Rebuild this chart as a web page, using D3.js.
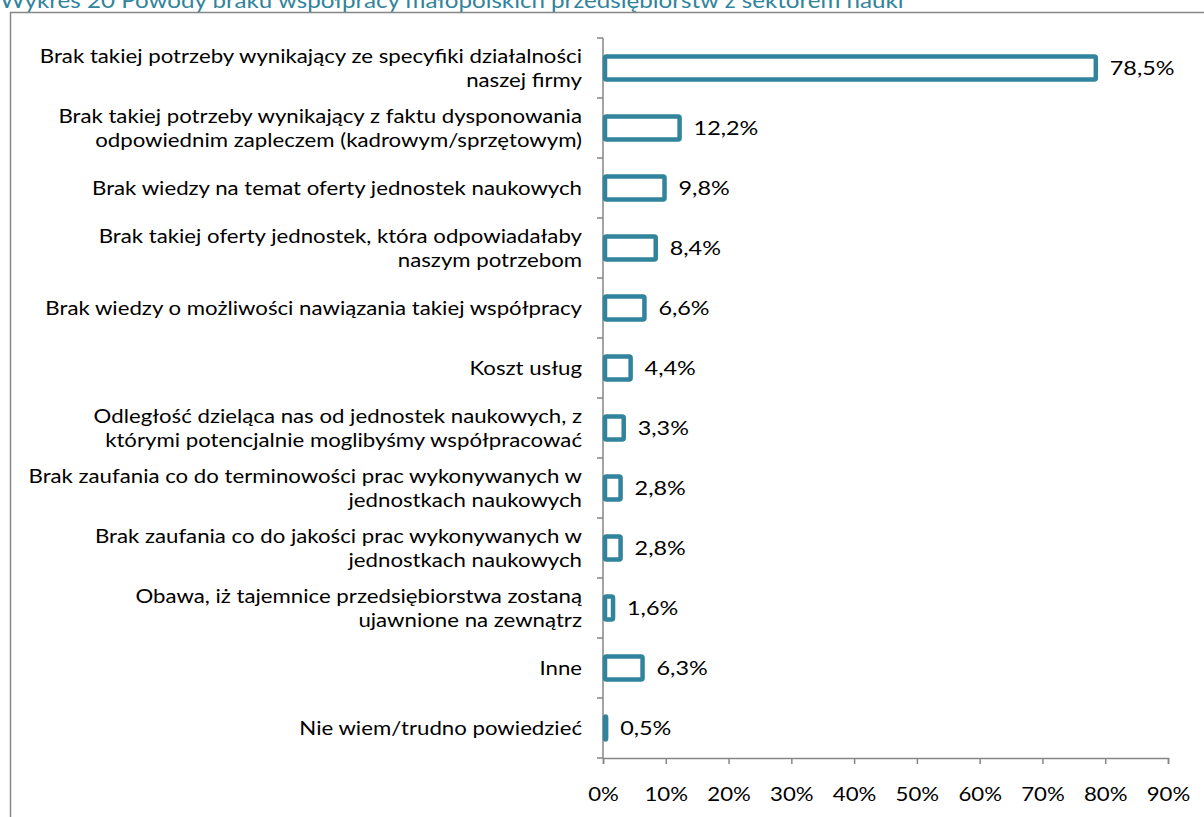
<!DOCTYPE html>
<html>
<head>
<meta charset="utf-8">
<script src="https://cdn.jsdelivr.net/npm/d3@7"></script>
<style>
  html, body { margin: 0; padding: 0; background: #fff; }
  svg { display: block; }
</style>
</head>
<body>
<svg id="chart" width="1204" height="817"></svg>
<script>
const title = "Wykres 20 Powody braku współpracy małopolskich przedsiębiorstw z sektorem nauki";
const categories = [
  ["Brak takiej potrzeby wynikający ze specyfiki działalności", "naszej firmy"],
  ["Brak takiej potrzeby wynikający z faktu dysponowania", "odpowiednim zapleczem (kadrowym/sprzętowym)"],
  ["Brak wiedzy na temat oferty jednostek naukowych"],
  ["Brak takiej oferty jednostek, która odpowiadałaby", "naszym potrzebom"],
  ["Brak wiedzy o możliwości nawiązania takiej współpracy"],
  ["Koszt usług"],
  ["Odległość dzieląca nas od jednostek naukowych, z", "którymi potencjalnie moglibyśmy współpracować"],
  ["Brak zaufania co do terminowości prac wykonywanych w", "jednostkach naukowych"],
  ["Brak zaufania co do jakości prac wykonywanych w", "jednostkach naukowych"],
  ["Obawa, iż tajemnice przedsiębiorstwa zostaną", "ujawnione na zewnątrz"],
  ["Inne"],
  ["Nie wiem/trudno powiedzieć"]
];
const values = [78.5, 12.2, 9.8, 8.4, 6.6, 4.4, 3.3, 2.8, 2.8, 1.6, 6.3, 0.5];
const xTicks = [0, 10, 20, 30, 40, 50, 60, 70, 80, 90];

const svg = d3.select("#chart");
const FONT = "Lato, 'Open Sans', sans-serif";
const teal = "#31849B";
const grey = "#868686";
const SX = 1.17; // horizontal stretch to mimic the reference's wide rendering

// title (partially clipped at the top like the reference)
svg.append("text")
  .attr("transform", `translate(0,8) scale(1.15,1)`)
  .attr("font-family", FONT).attr("font-size", 21)
  .attr("fill", teal)
  .text(title);

// chart border
svg.append("rect")
  .attr("x", 10.5).attr("y", 12.5)
  .attr("width", 1204).attr("height", 900)
  .attr("fill", "none").attr("stroke", grey).attr("stroke-width", 1.5);

const x = d3.scaleLinear().domain([0, 90]).range([603, 1168]);
const idx = d3.range(categories.length);
const y = d3.scaleBand().domain(idx).range([38, 758]).paddingInner(0.62).paddingOuter(0.31);
const yb = d3.scaleBand().domain(idx).range([38, 758]);

// y axis
const yAxis = svg.append("g").attr("transform", `translate(${x(0)},0)`);
yAxis.append("line").attr("x1", 0).attr("x2", 0).attr("y1", 38).attr("y2", 758)
  .attr("stroke", grey).attr("stroke-width", 1.5);
yAxis.selectAll("line.tk").data(d3.range(categories.length + 1)).join("line")
  .attr("class", "tk")
  .attr("x1", -6).attr("x2", 0)
  .attr("y1", i => 38 + i * yb.step()).attr("y2", i => 38 + i * yb.step())
  .attr("stroke", grey).attr("stroke-width", 1.5);

// x axis
const xAxis = d3.axisBottom(x).tickValues(xTicks).tickSize(6).tickFormat(d => d + "%");
const gx = svg.append("g").attr("transform", "translate(0,758)").call(xAxis);
gx.select(".domain").attr("stroke", grey).attr("stroke-width", 1.5);
gx.selectAll(".tick line").attr("stroke", grey).attr("stroke-width", 1.5);
gx.selectAll(".tick text").attr("font-family", FONT).attr("font-size", 19)
  .attr("fill", "#000").attr("dy", 0).attr("y", 0)
  .attr("transform", `translate(0,43) scale(${SX},1)`);

// bars
svg.append("g").selectAll("rect").data(idx).join("rect")
  .attr("x", x(0) + 2)
  .attr("y", i => y(i))
  .attr("width", i => Math.max(0, x(values[i]) - x(0) - 2))
  .attr("height", y.bandwidth())
  .attr("rx", 1.5)
  .attr("fill", "#fff")
  .attr("stroke", teal).attr("stroke-width", 4.5);

// value labels
svg.append("g").selectAll("text").data(idx).join("text")
  .attr("transform", i => `translate(${x(values[i]) + 14},${yb(i) + yb.bandwidth() / 2}) scale(${SX},1)`)
  .attr("dy", "0.35em")
  .attr("font-family", FONT).attr("font-size", 20).attr("fill", "#000")
  .text(i => values[i].toFixed(1).replace(".", ",") + "%");

// category labels
const lineH = 24;
const cl = svg.append("g").attr("transform", `translate(582,0) scale(${SX},1)`)
  .selectAll("text").data(idx).join("text")
  .attr("font-family", FONT).attr("font-size", 19).attr("fill", "#000")
  .attr("text-anchor", "end");
cl.each(function(i) {
  const lines = categories[i];
  const cy = yb(i) + yb.bandwidth() / 2;
  const t = d3.select(this);
  lines.forEach((ln, k) => {
    t.append("tspan")
      .attr("x", 0)
      .attr("y", cy + (k - (lines.length - 1) / 2) * lineH)
      .attr("dy", "0.35em")
      .text(ln);
  });
});
</script>
</body>
</html>
